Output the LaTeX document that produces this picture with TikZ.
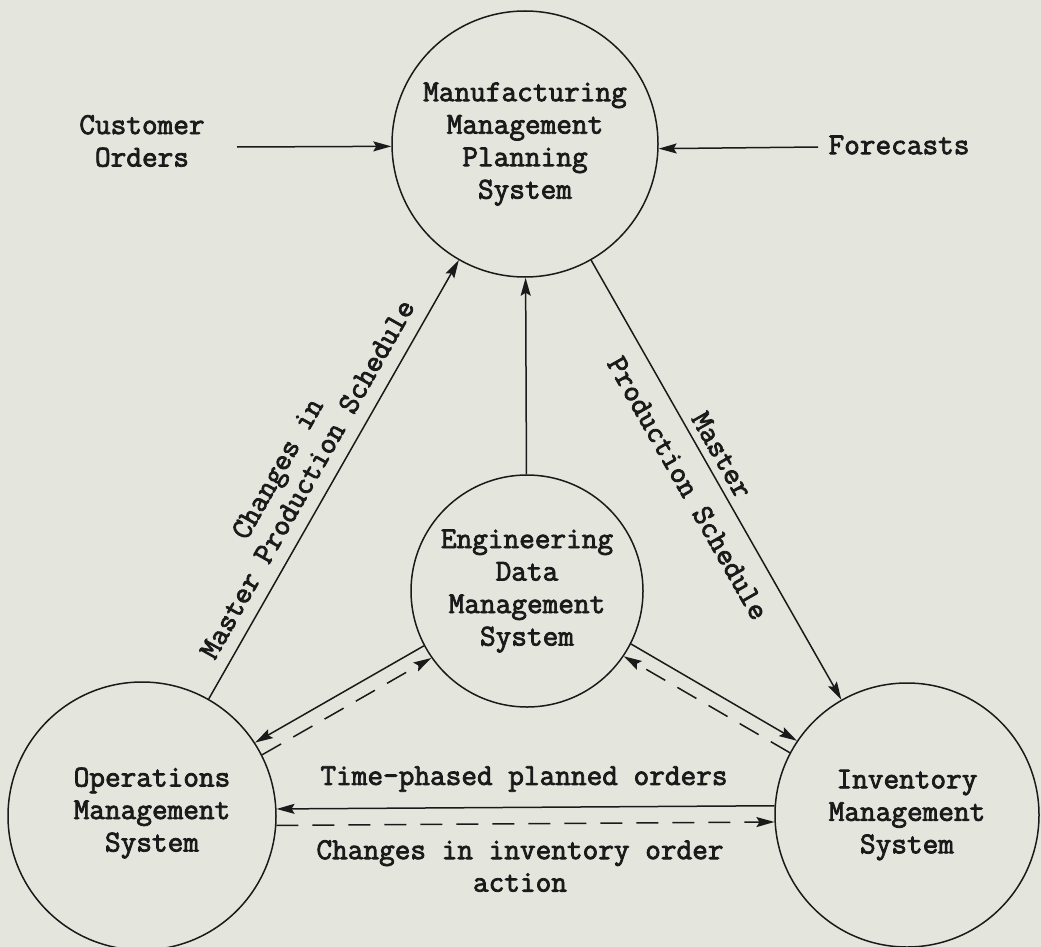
\documentclass[tikz,border=0pt]{standalone}
\usepackage{fontspec}
\usetikzlibrary{arrows.meta}
\newfontfamily\typewriter{Latin Modern Mono}[FakeBold=2.6]
\definecolor{paper}{RGB}{228,230,222}
\definecolor{inkc}{RGB}{26,26,26}
\begin{document}
\begin{tikzpicture}[x=1pt,y=-1pt,
  font=\typewriter\fontsize{30.4}{32.5}\selectfont,
  ink/.style={draw=inkc, line width=1.5pt},
  sys/.style={circle, ink, inner sep=0pt, align=center, text=inkc},
  lbl/.style={text=inkc, align=center, inner sep=0pt},
  flow/.style={ink, -{Stealth[length=18pt,width=10pt,inset=3pt]}},
  dflow/.style={flow, dash pattern=on 22pt off 14pt}]

% paper
\fill[paper] (0,0) rectangle (1041,947);
\useasboundingbox (0,0) rectangle (1041,947);

% the four systems
\node[sys, minimum size=266pt] (mmp) at (525,144) {Manufacturing\\Management\\Planning\\System};
\node[sys, minimum size=232pt] (eng) at (527,591) {Engineering\\Data\\Management\\System};
\node[sys, minimum size=268pt,
      label={[name=opsL, lbl, xshift=10pt, yshift=3pt]center:Operations\\Management\\System}] (ops) at (142,816) {};
\node[sys, minimum size=264pt] (inv) at (907,815) {Inventory\\Management\\System};

% external inputs
\node[lbl] (cust) at (142,141) {Customer\\Orders};
\node[lbl] (fc) at (899,145) {Forecasts};
\coordinate (custEnd) at (237,147);
\coordinate (fcEnd) at (818,147);
\draw[flow] (custEnd) -- (mmp.181.3);
\draw[flow] (fcEnd) -- (mmp.358.7);

% flows between systems
\draw[flow] (ops) -- (mmp);
\draw[flow] (eng) -- (mmp);
\draw[flow] (mmp) -- (inv);
\draw[flow] (eng.208) -- (ops.33);
\draw[dflow] (ops.27.5) -- (eng.215);
\draw[flow] (eng.333) -- (inv.146.2);
\draw[dflow] (inv.152.5) -- (eng.326.2);
\draw[flow] (inv.176.5) -- (ops.3.8);
\draw[dflow] (ops.356.6) -- (inv.183.9);

% flow labels
\node[lbl, rotate=60.5] (chg) at (280,470) {Changes in};
\node[lbl, rotate=60.5] (mpsL) at (307,479) {Master Production Schedule};
\node[lbl, rotate=-60.4] (mst) at (722,455) {Master};
\node[lbl, rotate=-60.4] (mpsR) at (688,488) {Production Schedule};
\node[lbl] (tpo) at (524,779) {Time-phased planned orders};
\node[lbl] (cio) at (520,866) {Changes in inventory order\\action};
\end{tikzpicture}
\end{document}
